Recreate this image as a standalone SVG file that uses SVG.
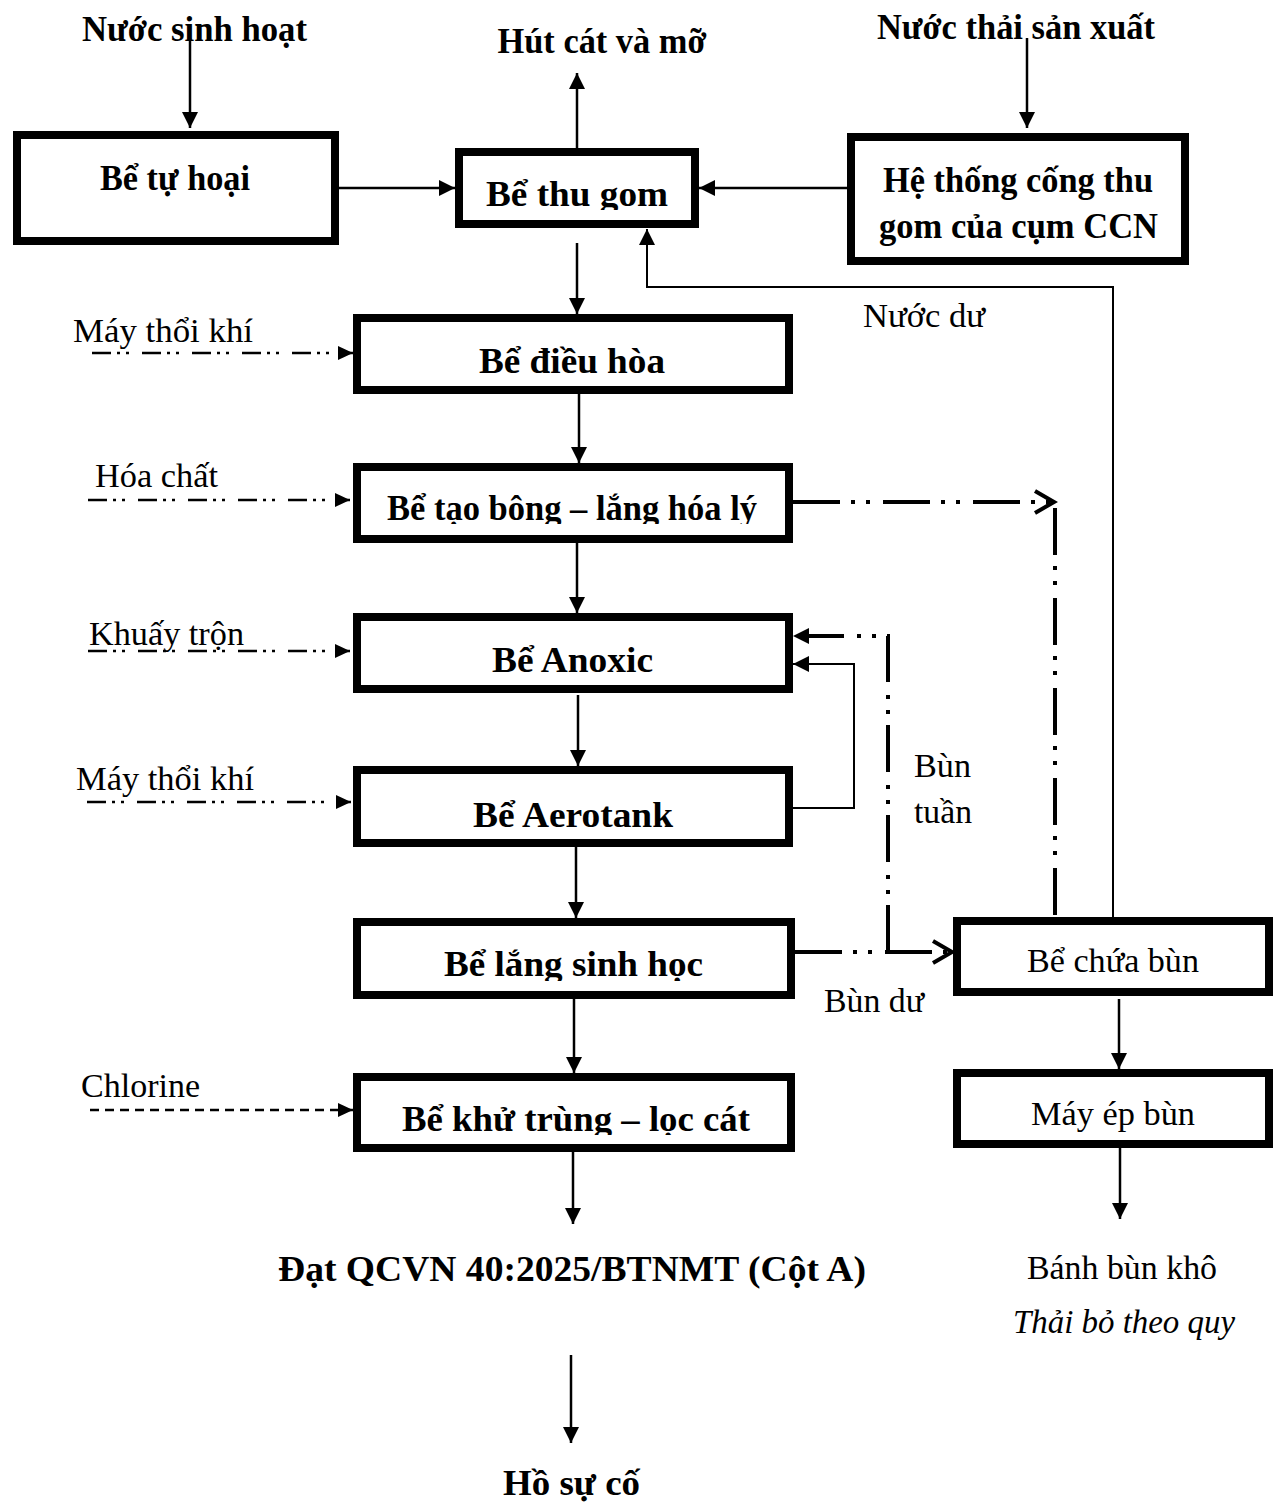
<svg xmlns="http://www.w3.org/2000/svg" width="1279" height="1504" viewBox="0 0 1279 1504">
<style>
  .box{fill:none;stroke:#000;stroke-width:8}
  .bg{fill:#fff}
  .b{font-family:"Liberation Serif","Times New Roman",serif;font-weight:bold;font-size:35px;fill:#000}
  .n{font-family:"Liberation Serif","Times New Roman",serif;font-size:33px;fill:#000}
  .i{font-style:italic}
  .c{text-anchor:middle}
  .s{fill:none;stroke:#000;stroke-width:2.5}
  .t{fill:none;stroke:#000;stroke-width:2}
  .dl{fill:none;stroke:#000;stroke-width:2.5;stroke-dasharray:19 6 3 6 3 13}
  .dr{fill:none;stroke:#000;stroke-width:4;stroke-dasharray:47 11 4 11 4 13}
  .dd{fill:none;stroke:#000;stroke-width:2.5;stroke-dasharray:9 6}
</style>
<defs>
  <marker id="ah" markerUnits="userSpaceOnUse" markerWidth="18" markerHeight="16" refX="16" refY="8" orient="auto"><path d="M0,0 L16,8 L0,16 z" fill="#000"/></marker>
  <marker id="ahs" markerUnits="userSpaceOnUse" markerWidth="16" markerHeight="14" refX="15" refY="7" orient="auto"><path d="M0,0 L15,7 L0,14 z" fill="#000"/></marker>
  <marker id="chev" markerUnits="userSpaceOnUse" markerWidth="28" markerHeight="28" refX="23" refY="14" orient="auto"><path d="M3,3 L22,14 L3,25" fill="none" stroke="#000" stroke-width="4"/></marker>
  <clipPath id="cp1"><rect x="463" y="150" width="228" height="60"/></clipPath>
  <clipPath id="cp2"><rect x="361" y="465" width="424" height="59"/></clipPath>
  <clipPath id="cp3"><rect x="361" y="920" width="424" height="61"/></clipPath>
  <clipPath id="cp4"><rect x="361" y="1075" width="424" height="60"/></clipPath>
</defs>

<g id="labels-top">
  <text class="b c" x="194.5" y="41" textLength="225" lengthAdjust="spacingAndGlyphs">Nước sinh hoạt</text>
  <text class="b c" x="602" y="53" textLength="209" lengthAdjust="spacingAndGlyphs">Hút cát và mỡ</text>
  <text class="b c" x="1016" y="39" textLength="278" lengthAdjust="spacingAndGlyphs">Nước thải sản xuất</text>
</g>

<g id="node-tu-hoai">
  <rect class="box" x="17" y="135" width="318" height="106"/>
  <text class="b c" x="175" y="190" textLength="150" lengthAdjust="spacingAndGlyphs">Bể tự hoại</text>
</g>
<g id="node-thu-gom">
  <text class="b c" x="577" y="206" textLength="182" lengthAdjust="spacingAndGlyphs" clip-path="url(#cp1)">Bể thu gom</text>
  <rect class="box" x="459" y="152" width="236" height="72"/>
</g>
<g id="node-cong">
  <rect class="box" x="851" y="137" width="334" height="124"/>
  <text class="b c" x="1018" y="192" textLength="270" lengthAdjust="spacingAndGlyphs">Hệ thống cống thu</text>
  <text class="b c" x="1018.5" y="238" textLength="279" lengthAdjust="spacingAndGlyphs">gom của cụm CCN</text>
</g>
<g id="node-dieu-hoa">
  <rect class="box" x="357" y="318" width="432" height="72"/>
  <text class="b c" x="572" y="373" textLength="186" lengthAdjust="spacingAndGlyphs">Bể điều hòa</text>
</g>
<g id="node-tao-bong">
  <text class="b c" x="572" y="520" textLength="370" lengthAdjust="spacingAndGlyphs" clip-path="url(#cp2)">Bể tạo bông – lắng hóa lý</text>
  <rect class="box" x="357" y="467" width="432" height="72"/>
</g>
<g id="node-anoxic">
  <rect class="box" x="357" y="617" width="432" height="72"/>
  <text class="b c" x="572.5" y="672" textLength="161" lengthAdjust="spacingAndGlyphs">Bể Anoxic</text>
</g>
<g id="node-aerotank">
  <rect class="box" x="357" y="770" width="432" height="73"/>
  <text class="b c" x="573" y="827" textLength="200" lengthAdjust="spacingAndGlyphs">Bể Aerotank</text>
</g>
<g id="node-lang">
  <text class="b c" x="573.5" y="976" textLength="259" lengthAdjust="spacingAndGlyphs" clip-path="url(#cp3)">Bể lắng sinh học</text>
  <rect class="box" x="357" y="922" width="434" height="73"/>
</g>
<g id="node-khu-trung">
  <text class="b c" x="576" y="1131" textLength="348" lengthAdjust="spacingAndGlyphs" clip-path="url(#cp4)">Bể khử trùng – lọc cát</text>
  <rect class="box" x="357" y="1077" width="434" height="71"/>
</g>
<g id="node-dat">
  <text class="b c" x="572" y="1281" textLength="588" lengthAdjust="spacingAndGlyphs">Đạt QCVN 40:2025/BTNMT (Cột A)</text>
</g>
<g id="node-ho">
  <text class="b c" x="571.5" y="1495" textLength="137" lengthAdjust="spacingAndGlyphs">Hồ sự cố</text>
</g>
<g id="node-chua-bun">
  <rect class="box" x="957" y="921" width="312" height="71"/>
  <text class="n" x="1027" y="972" textLength="172" lengthAdjust="spacingAndGlyphs">Bể chứa bùn</text>
</g>
<g id="node-ep-bun">
  <rect class="box" x="957" y="1073" width="312" height="71"/>
  <text class="n" x="1031" y="1125" textLength="164" lengthAdjust="spacingAndGlyphs">Máy ép bùn</text>
</g>
<g id="node-banh">
  <text class="n" x="1027" y="1279" textLength="190" lengthAdjust="spacingAndGlyphs">Bánh bùn khô</text>
  <text class="n i" x="1013" y="1333" textLength="222" lengthAdjust="spacingAndGlyphs">Thải bỏ theo quy</text>
</g>

<g id="input-labels">
  <text class="n" x="73" y="342" textLength="180" lengthAdjust="spacingAndGlyphs">Máy thổi khí</text>
  <text class="n" x="95" y="487" textLength="123" lengthAdjust="spacingAndGlyphs">Hóa chất</text>
  <text class="n" x="89" y="645" textLength="155" lengthAdjust="spacingAndGlyphs">Khuấy trộn</text>
  <text class="n" x="76" y="790" textLength="178" lengthAdjust="spacingAndGlyphs">Máy thổi khí</text>
  <text class="n" x="81" y="1097" textLength="119" lengthAdjust="spacingAndGlyphs">Chlorine</text>
  <text class="n" x="863" y="327" textLength="122" lengthAdjust="spacingAndGlyphs">Nước dư</text>
  <text class="n" x="914" y="777" textLength="57" lengthAdjust="spacingAndGlyphs">Bùn</text>
  <text class="n" x="914" y="823" textLength="58" lengthAdjust="spacingAndGlyphs">tuần</text>
  <text class="n" x="824" y="1012" textLength="100" lengthAdjust="spacingAndGlyphs">Bùn dư</text>
</g>

<g id="connectors">
  <path class="s" d="M190,38 V128" marker-end="url(#ah)"/>
  <path class="s" d="M339,188 H455" marker-end="url(#ah)"/>
  <path class="s" d="M577,148 V73" marker-end="url(#ah)"/>
  <path class="s" d="M847,188 H699" marker-end="url(#ah)"/>
  <path class="s" d="M1027,38 V128" marker-end="url(#ah)"/>
  <path class="t" d="M1113,917 V287 H647 V229" marker-end="url(#ah)"/>
  <path class="s" d="M577,243 V314" marker-end="url(#ah)"/>
  <path class="s" d="M579,394 V463" marker-end="url(#ah)"/>
  <path class="s" d="M577,543 V613" marker-end="url(#ah)"/>
  <path class="s" d="M578,695 V766" marker-end="url(#ah)"/>
  <path class="s" d="M576,847 V918" marker-end="url(#ah)"/>
  <path class="s" d="M574,999 V1073" marker-end="url(#ah)"/>
  <path class="s" d="M573,1152 V1224" marker-end="url(#ah)"/>
  <path class="s" d="M571,1355 V1443" marker-end="url(#ah)"/>
  <path class="s" d="M1119,999 V1069" marker-end="url(#ah)"/>
  <path class="s" d="M1120,1148 V1219" marker-end="url(#ah)"/>
  <path class="t" d="M793,808 H854 V664 H793" marker-end="url(#ah)"/>

  <path class="dl" d="M92,353 H353" marker-end="url(#ahs)"/>
  <path class="dl" d="M88,500 H350" marker-end="url(#ahs)"/>
  <path class="dl" d="M88,651 H350" marker-end="url(#ahs)"/>
  <path class="dl" d="M87,802 H351" marker-end="url(#ahs)"/>
  <path class="dd" d="M90,1110 H353" marker-end="url(#ahs)"/>

  <path class="dr" d="M793,502 H1055" marker-end="url(#chev)"/>
  <path class="dr" d="M1055,508 V917"/>
  <path class="dr" d="M795,952 H953" marker-end="url(#chev)"/>
  <path class="dr" d="M888,952 V636 H793" marker-end="url(#ah)"/>
</g>
</svg>
